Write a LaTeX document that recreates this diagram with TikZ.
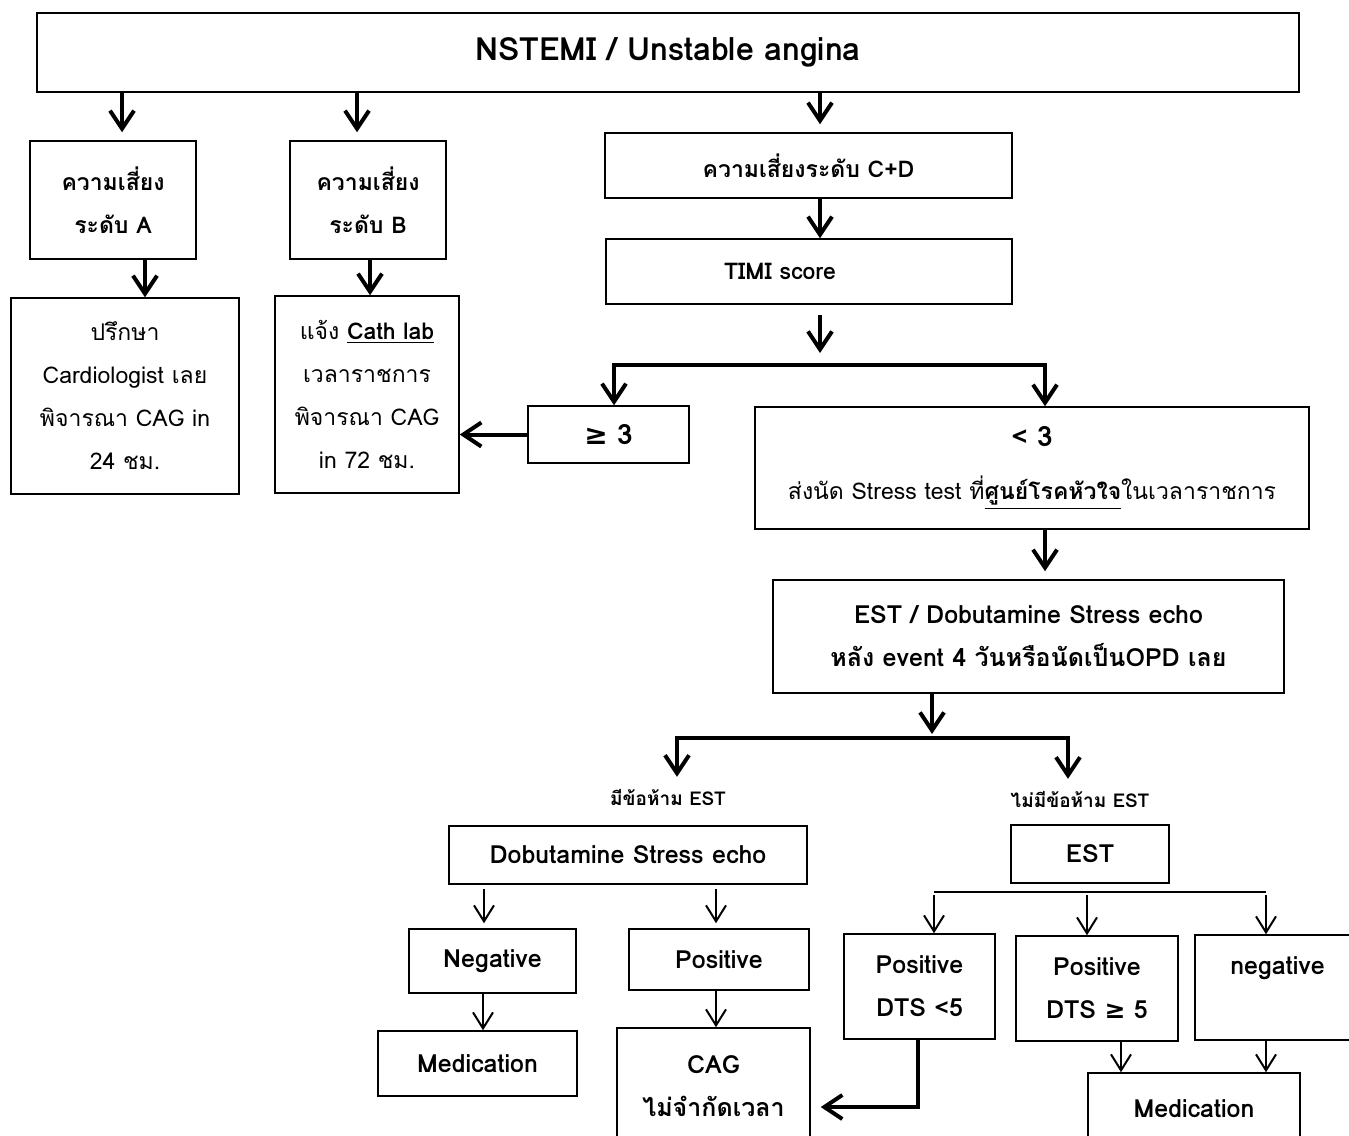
\documentclass[tikz,border=0pt]{standalone}
\usepackage{fontspec}
\setmainfont[Script=Thai]{Loma}
\newfontfamily\symfont{DejaVu Sans}
\usepackage{tikz}
\usetikzlibrary{arrows.meta}
\usetikzlibrary{calc}
\usetikzlibrary{positioning}
\newcommand{\gesym}{{\symfont ≥}}

\tikzset{
  box/.style={draw, line width=0.75pt, inner sep=0pt, align=center,
    font=\bfseries\fontsize{11.5}{21.5}\selectfont},
  plainbox/.style={box, font=\fontsize{11.5}{21.5}\selectfont},
  widebox/.style={box, font=\bfseries\fontsize{12.5}{21.5}\selectfont},
  cilabel/.style={font=\bfseries\fontsize{9.5}{12}\selectfont},
  bigarrow/.style={line width=2pt, -{Straight Barb[length=9pt, width=12pt]}},
  smallarrow/.style={line width=1pt, -{Straight Barb[length=8pt, width=10pt]}},
  smallline/.style={line width=1pt},
}

\begin{document}
\begin{tikzpicture}[x=0.5pt, y=-0.5pt]

    \useasboundingbox (0,0) rectangle (1349,1135);

    % top
    \node[box, minimum width=631pt, minimum height=39.5pt,
      font=\bfseries\fontsize{16}{20}\selectfont] (top) at (668,52.5) {NSTEMI / Unstable angina};

    % risk levels
    \node[box, minimum width=83pt, minimum height=59pt] (A) at (113,200) {ความเสี่ยง\\ระดับ A};
    \node[box, minimum width=78pt, minimum height=59pt] (B) at (368,200) {ความเสี่ยง\\ระดับ B};
    \node[box, minimum width=203.5pt, minimum height=32.5pt] (CD) at (808.5,165.5) {ความเสี่ยงระดับ C+D};
    \node[box, minimum width=203pt, minimum height=32.5pt] (TIMI) at (809,271.5) {TIMI score\hspace*{29pt}};

    % actions for A and B
    \node[plainbox, minimum width=114pt, minimum height=98pt] (Aact) at (125,396)
      {ปรึกษา\\Cardiologist เลย\\พิจารณา CAG in\\24 ชม.};
    \node[plainbox, minimum width=92pt, minimum height=98.5pt] (Bact) at (367,394.5)
      {แจ้ง \underline{\textbf{Cath lab}}\\เวลาราชการ\\พิจารณา CAG\\in 72 ชม.};

    % TIMI score split
    \node[box, minimum width=80.5pt, minimum height=28.5pt,
      font=\bfseries\fontsize{14}{20}\selectfont] (hi) at (608.5,434.5) {\gesym\ 3};
    \node[box, minimum width=277pt, minimum height=61pt] (lo) at (1032,468)
      {\fontsize{14}{20}\selectfont < 3\\[5pt]\mdseries ส่งนัด Stress test ที่\underline{\textbf{ศูนย์โรคหัวใจ}}ในเวลาราชการ};
    \node[widebox, minimum width=255.5pt, minimum height=56.5pt] (test) at (1028.5,636.5)
      {EST / Dobutamine Stress echo\\หลัง event 4 วันหรือนัดเป็นOPD เลย};

    % contraindication labels
    \node[cilabel] (withci) at (668,798) {มีข้อห้าม EST};
    \node[cilabel] (noci) at (1080,800) {ไม่มีข้อห้าม EST};

    % dobutamine stress echo branch
    \node[widebox, minimum width=179pt, minimum height=29pt] (dse) at (628,855) {Dobutamine Stress echo};
    \node[widebox, minimum width=83.5pt, minimum height=32pt] (dneg) at (492.5,961) {Negative};
    \node[widebox, minimum width=90pt, minimum height=30.5pt] (dpos) at (719,959.5) {Positive};
    \node[widebox, minimum width=99.5pt, minimum height=32.5pt] (dmed) at (477.5,1063.5) {Medication};
    \node[widebox, minimum width=96.5pt, minimum height=58.5pt] (cag) at (713.5,1086.5) {CAG\\ไม่จำกัดเวลา};

    % exercise stress test branch
    \node[widebox, minimum width=79pt, minimum height=29pt] (est) at (1090,854) {EST};
    \node[widebox, minimum width=75.5pt, minimum height=52.5pt] (elow) at (919.5,986.5) {Positive\\DTS <5};
    \node[widebox, minimum width=81pt, minimum height=52.5pt] (ehigh) at (1097,988.5) {Positive\\DTS \gesym\ 5};
    \node[widebox, minimum width=82.5pt, minimum height=52.5pt] (eneg) at (1277.5,987.5) {negative\\\mbox{}};
    \node[widebox, minimum width=106pt, minimum height=36pt] (emed) at (1194,1109) {Medication};

    % arrows from the top
    \draw[bigarrow, shorten >=4pt] ($(top.south -| A.north)+(9,0)$) -- ($(A.north)+(9,0)$);
    \draw[bigarrow, shorten >=4pt] ($(top.south -| B.north)+(-11,0)$) -- ($(B.north)+(-11,0)$);
    \draw[bigarrow, shorten >=4pt] ($(top.south -| CD.north)+(11.5,0)$) -- ($(CD.north)+(11.5,0)$);
    \draw[bigarrow] ($(CD.south)+(11.5,0)$) -- ($(TIMI.north)+(11,0)$);
    \draw[bigarrow] ($(A.south)+(32,0)$) -- ($(Aact.north)+(20,0)$);
    \draw[bigarrow] ($(B.south)+(2,0)$) -- ($(Bact.north)+(3,0)$);

    % TIMI arrows
    \coordinate (tsplit) at (820,365);
    \draw[bigarrow, shorten <=5pt, shorten >=6pt] (TIMI.south -| tsplit) -- (tsplit);
    \draw[bigarrow] (tsplit) -| ($(hi.north)+(5.5,0)$);
    \draw[bigarrow] (tsplit) -| ($(lo.north)+(13,0)$);
    \draw[bigarrow] (hi.west) -- (hi.west -| Bact.east);
    \draw[bigarrow, shorten >=4pt] ($(lo.south)+(13,0)$) -- ($(test.north)+(16.5,0)$);

    % test arrows
    \coordinate (dsplit) at (932,738);
    \draw[bigarrow, shorten >=2pt] (test.south -| dsplit) -- (dsplit);
    \draw[bigarrow, shorten >=3pt] (dsplit) -| ($(withci.north)+(9,0)$);
    \draw[bigarrow, shorten >=3pt] (dsplit) -| ($(noci.north)+(-12,0)$);

    % dobutamine arrows
    \draw[smallarrow, shorten <=2pt, shorten >=2.5pt] ($(dse.south)+(-144,0)$) -- ($(dneg.north)+(-8.5,0)$);
    \draw[smallarrow, shorten <=2pt, shorten >=2.5pt] ($(dse.south)+(88,0)$) -- ($(dpos.north)+(-3,0)$);
    \draw[smallarrow] ($(dneg.south)+(-9.5,0)$) -- ($(dmed.north)+(5.5,0)$);
    \draw[smallarrow] ($(dpos.south)+(-3,0)$) -- ($(cag.north)+(2.5,0)$);

    % EST arrows
    \coordinate (eleft) at (934,892);
    \coordinate (emid) at (1087,892);
    \coordinate (eright) at (1266,892);
    \draw[smallline] (eleft) -- (eright);
    \draw[smallarrow, shorten <=1.5pt] (eleft) -- ($(elow.north)+(14.5,0)$);
    \draw[smallarrow, shorten <=1.5pt] (emid) -- ($(ehigh.north)+(-10,0)$);
    \draw[smallarrow, shorten <=1.5pt] (eright) -- ($(eneg.north)+(-11.5,0)$);
    \draw[bigarrow, shorten >=5pt] ($(elow.south)+(-1.5,0)$) |- ($(cag.east)+(0,20.5)$);
    \draw[smallarrow] ($(ehigh.south)+(24,0)$) -- ($(emed.north)+(-73,0)$);
    \draw[smallarrow] ($(eneg.south)+(-11.5,0)$) -- ($(emed.north)+(72,0)$);

\end{tikzpicture}
\end{document}
